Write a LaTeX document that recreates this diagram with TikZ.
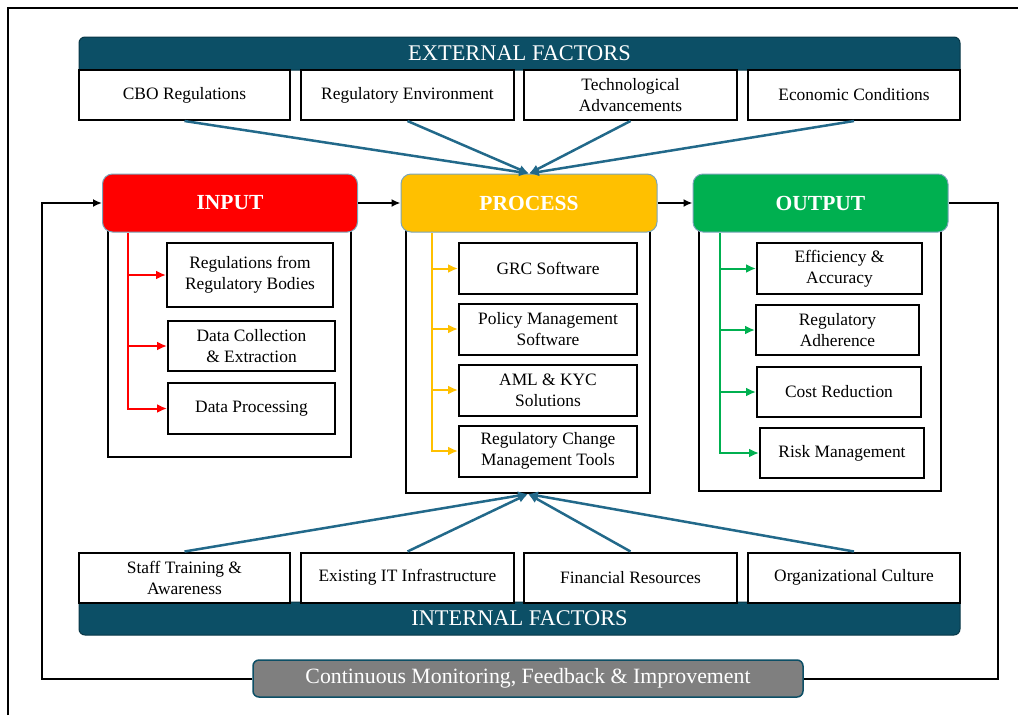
\documentclass[tikz,border=0pt]{standalone}
\usepackage{fontspec}
\setmainfont{Liberation Serif}
\usetikzlibrary{arrows.meta,positioning}
\definecolor{barteal}{HTML}{0C4F66}
\definecolor{arrteal}{HTML}{22698A}
\definecolor{inred}{HTML}{FF0000}
\definecolor{procamber}{HTML}{FFC000}
\definecolor{outgreen}{HTML}{00B050}
\definecolor{fbgray}{HTML}{7F7F7F}

\begin{document}
\begin{tikzpicture}[x=1pt, y=-1pt, >=Latex,
  barshape/.style={draw=barteal!70!black, fill=barteal, line width=1pt},
  bartext/.style={text=white, font=\fontsize{22.4}{26}\selectfont, inner sep=0},
  factor/.style={draw, fill=white, line width=2pt, align=center, font=\fontsize{17.4}{21}\selectfont,
    minimum height=50, inner sep=0},
  head/.style={draw=arrteal!60, line width=1pt, rounded corners=10pt, text=white,
    font=\bfseries\fontsize{21.5}{24}\selectfont, minimum width=255, minimum height=58, inner sep=0},
  body/.style={draw, line width=2pt, inner sep=0},
  item/.style={draw, fill=white, line width=2pt, align=center, font=\fontsize{17.4}{21}\selectfont, inner sep=0},
  branch/.style={line width=2pt, -{Latex[length=10pt,width=9pt]}},
  influence/.style={arrteal, line width=2.5pt, -{Latex[length=10pt,width=9pt]}},
  flow/.style={line width=2pt, -{Latex[length=9pt,width=8pt]}}]
  \useasboundingbox (0,0) rectangle (1024,715);
  %\draw[step=50,gray,very thin] (0,0) grid (1024,715);
  \draw[line width=2pt] (8,715) -- (8,8) -- (1018,8);
  % external factors
  \filldraw[barshape] (79,70) [rounded corners=6pt] -- (79,37) -- (960,37) [sharp corners] -- (960,70) -- cycle;
  \node[bartext] (extbar) at (519.5,53.5) {EXTERNAL FACTORS};
  \node[factor, minimum width=211] (cbo) at (184.5,95) {CBO Regulations};
  \node[factor, minimum width=213] (regenv) at (407.5,95) {Regulatory Environment};
  \node[factor, minimum width=213] (tech) at (630.5,95) {Technological\\Advancements};
  \node[factor, minimum width=212] (econ) at (854,95) {Economic Conditions};
  % columns
  \node[body, minimum width=243, minimum height=242] (inbody) at (229.5,336) {};
  \node[body, minimum width=244, minimum height=278] (procbody) at (528,354) {};
  \node[body, minimum width=242, minimum height=276] (outbody) at (820,353) {};
  \node[head, fill=inred] (inhead) at (230,203) {INPUT};
  \node[head, fill=procamber, minimum width=256] (prochead) at (529,203) {PROCESS};
  \node[head, fill=outgreen] (outhead) at (820.5,203) {OUTPUT};
  \node[item, minimum width=166, minimum height=64] (regbodies) at (250,275) {Regulations from\\Regulatory Bodies};
  \node[item, minimum width=167, minimum height=50] (collect) at (251.5,346) {Data Collection\\\& Extraction};
  \node[item, minimum width=167, minimum height=51] (dataproc) at (251.5,408.5) {Data Processing};
  \node[item, minimum width=178, minimum height=51] (grc) at (548,268.5) {GRC Software};
  \node[item, minimum width=178, minimum height=51] (policy) at (548,329) {Policy Management\\Software};
  \node[item, minimum width=178, minimum height=51] (amlkyc) at (548,390) {AML \& KYC\\Solutions};
  \node[item, minimum width=178, minimum height=51] (regchange) at (548,451) {Regulatory Change\\Management Tools};
  \node[item, minimum width=165, minimum height=51] (efficiency) at (839.5,268.5) {Efficiency \&\\Accuracy};
  \node[item, minimum width=163, minimum height=50] (adherence) at (837.5,330) {Regulatory\\Adherence};
  \node[item, minimum width=164, minimum height=50] (cost) at (839,392) {Cost Reduction};
  \node[item, minimum width=164, minimum height=50] (risk) at (842,453) {Risk Management};
  \coordinate (intrunk) at (128,233);
  \coordinate (proctrunk) at (432,233);
  \coordinate (outtrunk) at (720,233);
  \foreach \b in {regbodies,collect,dataproc}
    \draw[branch, inred] (intrunk) |- (\b.west);
  \foreach \b in {grc,policy,amlkyc,regchange}
    \draw[branch, procamber] (proctrunk) |- (\b.west);
  \foreach \b in {efficiency,adherence,cost,risk}
    \draw[branch, outgreen] (outtrunk) |- (\b.west);
  \draw[flow] (inhead) -- (prochead);
  \draw[flow] (prochead) -- (outhead);
  % internal factors
  \filldraw[barshape] (79,602) [rounded corners=6pt] -- (79,635) -- (960,635) [sharp corners] -- (960,602) -- cycle;
  \node[bartext] (intbar) at (519.5,618.5) {INTERNAL FACTORS};
  \node[factor, minimum width=211] (staff) at (184.5,577.5) {Staff Training \&\\Awareness};
  \node[factor, minimum width=213] (existit) at (407.5,577.5) {Existing IT Infrastructure};
  \node[factor, minimum width=213] (finres) at (630.5,577.5) {Financial Resources};
  \node[factor, minimum width=212] (orgcult) at (854,577.5) {Organizational Culture};
  \foreach \f in {cbo,regenv,tech,econ}
    \draw[influence] (\f.south) -- (prochead.north);
  \foreach \f in {staff,existit,finres,orgcult}
    \draw[influence] (\f.north) -- (procbody.south);
  % feedback loop
  \node[draw=barteal, fill=fbgray, rounded corners=6pt, line width=1.5pt, text=white,
    font=\fontsize{21.8}{24}\selectfont, minimum width=550, minimum height=37, inner sep=0]
    (monitor) at (528,678.5) {Continuous Monitoring, Feedback \& Improvement};
  \coordinate (fbright) at (998,203);
  \coordinate (fbleft) at (42,203);
  \draw[line width=2pt] (outhead.east) -- (fbright) |- (monitor.east);
  \draw[flow] (monitor.west) -| (fbleft) -- (inhead.west);
\end{tikzpicture}
\end{document}
